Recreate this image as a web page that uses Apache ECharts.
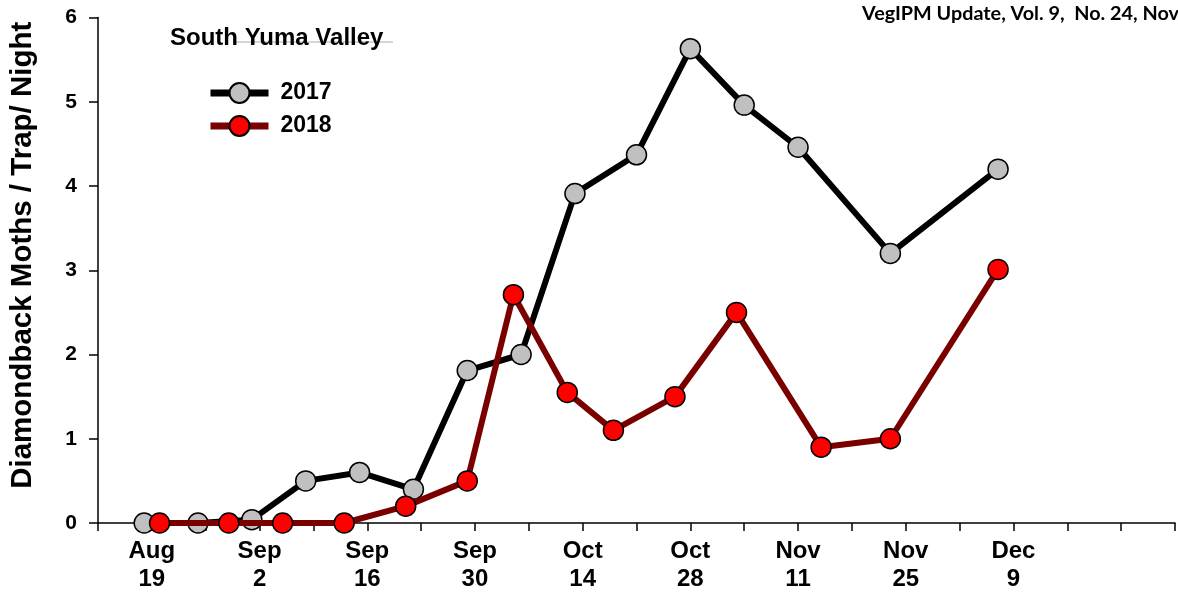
<!DOCTYPE html>
<html>
<head>
<meta charset="utf-8">
<script src="https://cdn.jsdelivr.net/npm/echarts@6/dist/echarts.min.js"></script>
<style>
html,body{margin:0;padding:0;background:#fff;}
#chart{width:1178px;height:593px;}
</style>
</head>
<body>
<div id="chart"></div>
<script>
// Days counted from Aug 12 (axis start); axis spans 20 weeks
const tickLabels = ['Aug\n19', 'Sep\n2', 'Sep\n16', 'Sep\n30', 'Oct\n14', 'Oct\n28', 'Nov\n11', 'Nov\n25', 'Dec\n9'];
const tickLabelDays = [7, 21, 35, 49, 63, 77, 91, 105, 119];

const days2017 = [6, 13, 20, 27, 34, 41, 48, 55, 62, 70, 77, 84, 91, 103, 117];
const values2017 = [0, 0, 0.04, 0.5, 0.6, 0.4, 1.81, 2.0, 3.91, 4.37, 5.63, 4.96, 4.46, 3.2, 4.2];

const days2018 = [8, 17, 24, 32, 40, 48, 54, 61, 67, 75, 83, 94, 103, 117];
const values2018 = [0, 0, 0, 0, 0.2, 0.5, 2.71, 1.55, 1.1, 1.5, 2.5, 0.9, 1.0, 3.01];

const font = '"Liberation Sans", Arial, sans-serif';

const chart = echarts.init(document.getElementById('chart'), null, {renderer: 'canvas'});

const option = {
  animation: false,
  backgroundColor: '#fff',
  grid: {left: 95, right: 2, top: 17.5, bottom: 70, containLabel: false},
  legend: {
    left: 202, top: 76.5, orient: 'vertical',
    itemWidth: 58, itemHeight: 25, itemGap: 10,
    lineStyle: {width: 7},
    textStyle: {fontFamily: font, fontSize: 23, fontWeight: 'bold', color: '#000', padding: [0, 0, 0, 7]},
    data: ['2017', '2018']
  },
  xAxis: {
    type: 'value', min: 0, max: 140, interval: 7,
    axisLine: {show: true, lineStyle: {color: '#000', width: 1.5}},
    axisTick: {show: true, inside: false, length: 8, lineStyle: {color: '#000', width: 1.5}},
    splitLine: {show: false},
    axisLabel: {
      margin: 14, color: '#000', fontFamily: font, fontSize: 24, fontWeight: 'bold', lineHeight: 28,
      showMaxLabel: true, showMinLabel: true,
      formatter: function (v) {
        const i = tickLabelDays.indexOf(Math.round(v));
        return i >= 0 ? tickLabels[i] : '';
      }
    }
  },
  yAxis: {
    type: 'value', min: 0, max: 6, interval: 1,
    name: 'Diamondback Moths / Trap/ Night',
    nameLocation: 'middle', nameGap: 60, nameRotate: 90,
    nameTextStyle: {fontFamily: font, fontSize: 29.5, fontWeight: 'bold', color: '#000', padding: [0, 0, 0, 30]},
    axisLine: {show: true, lineStyle: {color: '#000', width: 1.5}},
    axisTick: {show: true, inside: false, length: 9, lineStyle: {color: '#000', width: 1.5}},
    splitLine: {show: false},
    axisLabel: {margin: 21, color: '#000', fontFamily: font, fontSize: 21, fontWeight: 'bold'}
  },
  graphic: [
    {type: 'line', shape: {x1: 233, y1: 42, x2: 393, y2: 42}, style: {stroke: '#c8c8c8', lineWidth: 1.5}, z: 0},
    {type: 'text', x: 170, y: 38, z: 10,
     style: {text: 'South Yuma Valley', fontFamily: font, fontSize: 24, fontWeight: 'bold', fill: '#000', verticalAlign: 'middle'}},
    {type: 'text', x: 862, y: 13.5, z: 10,
     style: {text: 'VegIPM Update, Vol. 9,  No. 24, Nov', fontFamily: 'Lato, "Open Sans", sans-serif', fontSize: 19.8, fontWeight: 'bold', fill: '#000', verticalAlign: 'middle'}}
  ],
  series: [
    {
      name: '2017', type: 'line',
      data: days2017.map((d, i) => [d, values2017[i]]),
      symbol: 'circle', symbolSize: 20,
      lineStyle: {color: '#000', width: 6},
      itemStyle: {color: '#c0c0c0', borderColor: '#000', borderWidth: 1.5},
      z: 2
    },
    {
      name: '2018', type: 'line',
      data: days2018.map((d, i) => [d, values2018[i]]),
      symbol: 'circle', symbolSize: 20,
      lineStyle: {color: '#7a0000', width: 6},
      itemStyle: {color: '#ff0000', borderColor: '#000', borderWidth: 1.5},
      z: 3
    }
  ]
};
chart.setOption(option);
</script>
</body>
</html>
